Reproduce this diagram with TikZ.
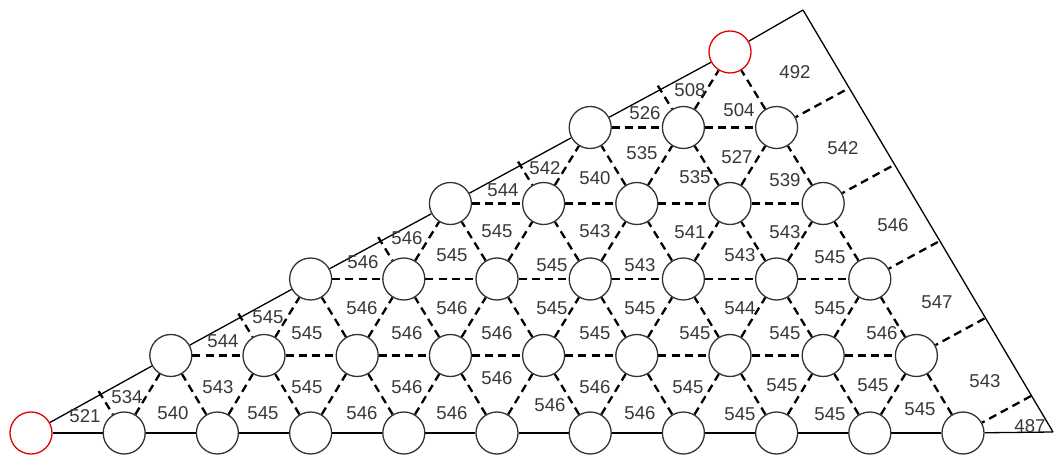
\documentclass[tikz,border=0pt]{standalone}
\usepackage{fontspec}
\setmainfont{Liberation Sans}
\usetikzlibrary{backgrounds}
\begin{document}
\begin{tikzpicture}[x=0.5pt,y=-0.5pt,
  ball/.style={circle,draw=black!80,line width=0.65pt,fill=white,minimum size=21pt,inner sep=0pt},
  redball/.style={ball,draw=red!90!black},
  solidedge/.style={line width=0.65pt,black},
  dashedge/.style={line width=1.15pt,dash pattern=on 4pt off 2.6pt,black},
  lab/.style={font=\fontsize{9.3}{10}\selectfont,text=black!78,inner sep=0pt}]
\useasboundingbox (0,0) rectangle (1054,459);
% lattice nodes
\foreach \k in {0,...,5}{
  \pgfmathsetmacro\yy{{433,355.5,279,203.5,127.5,52}[\k]}
  \pgfmathtruncatemacro\jlast{10-\k}
  \foreach \j in {\k,...,\jlast}{
    \pgfmathsetmacro\xx{31+(\j+\k/2)*93.2}
    \def\sty{ball}
    \ifnum\j=0 \def\sty{redball}\fi
    \ifnum\k=5 \def\sty{redball}\fi
    \node[\sty] (n-\k-\j) at (\xx,\yy) {};
  }
}
\coordinate (C1) at (803,10);
\coordinate (C2) at (1053,432);
% tick and right-side coordinates
\foreach \k in {0,...,4}{
  \pgfmathtruncatemacro\ja{\k+1}
  \pgfmathtruncatemacro\jb{10-\k}
  \path (n-\k-\ja) ++(-25.6,-41.9) coordinate (t-\k);
  \path (n-\k-\jb) ++(68,-37) coordinate (r-\k);
}
\begin{scope}[on background layer]
  % outer solid lines
  \foreach \j in {0,...,9}{
    \pgfmathtruncatemacro\jn{\j+1}
    \draw[solidedge] (n-0-\j) -- (n-0-\jn);
  }
  \draw[solidedge] (n-0-10) -- (C2);
  \foreach \k in {0,...,4}{
    \pgfmathtruncatemacro\kn{\k+1}
    \draw[solidedge] (n-\k-\k) -- (n-\kn-\kn);
  }
  \draw[solidedge] (n-5-5) -- (C1);
  \draw[solidedge] (C1) -- (C2);
  % horizontal dashed
  \foreach \k in {1,...,4}{
    \pgfmathtruncatemacro\jl{9-\k}
    \foreach \j in {\k,...,\jl}{
      \pgfmathtruncatemacro\jn{\j+1}
      \draw[dashedge] (n-\k-\j) -- (n-\k-\jn);
    }
  }
  % diagonal dashed
  \foreach \k in {0,...,4}{
    \pgfmathtruncatemacro\kn{\k+1}
    \pgfmathtruncatemacro\ja{\k+1}
    \pgfmathtruncatemacro\jb{9-\k}
    \foreach \j in {\ja,...,\jb}{
      \draw[dashedge] (n-\k-\j) -- (n-\kn-\j);
    }
    \pgfmathtruncatemacro\jc{\k+2}
    \pgfmathtruncatemacro\jd{10-\k}
    \foreach \j in {\jc,...,\jd}{
      \pgfmathtruncatemacro\jm{\j-1}
      \draw[dashedge] (n-\k-\j) -- (n-\kn-\jm);
    }
    \draw[dashedge] (t-\k) -- (n-\k-\ja);
    \draw[dashedge] (r-\k) -- (n-\k-\jd);
  }
\end{scope}
% labels
\foreach \x/\y/\t [count=\i] in {
  85/416/521, 173/413/540, 263/413/545, 362/413/546, 452/413/546,
  550/405/546, 640/413/546, 740/414/545, 830/414/545, 920/409/545,
  127/397/534, 218/387/543, 307/387/545, 407/387/546, 497/378/546,
  595/387/546, 688/387/545, 782/385/545, 873/385/545, 985/381/543,
  1030/426/487,
  223/341/544, 268/317/545, 307/333/545, 362/308/546, 407/333/546,
  452/308/546, 497/333/546, 552/308/545, 595/333/545, 640/308/545,
  695/333/545, 740/308/544, 785/333/545, 830/308/545, 882/333/546,
  937/302/547,
  363/262/546, 407/238/546, 452/255/545, 497/231/545, 552/265/545,
  595/231/543, 640/265/543, 690/232/541, 740/255/543, 785/232/543,
  830/257/545, 893/225/546,
  503/190/544, 545/168/542, 595/178/540, 642/153/535, 695/177/535,
  737/157/527, 785/180/539, 843/148/542,
  645/113/526, 690/90/508, 739/110/504, 795/72/492}{
  \node[lab] (lab-\i) at (\x,\y) {\t};
}
\end{tikzpicture}
\end{document}
